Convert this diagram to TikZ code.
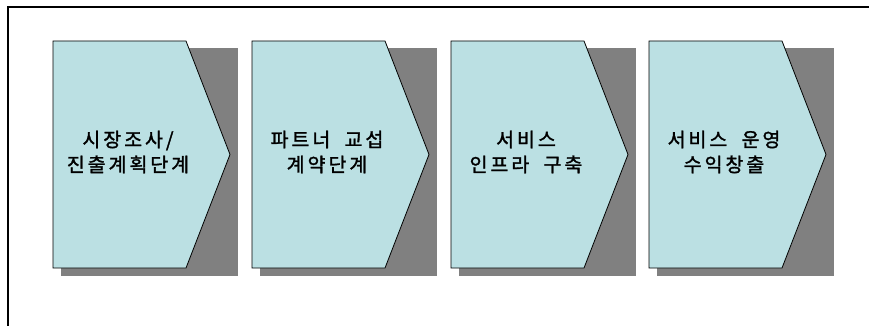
\documentclass[tikz,border=0pt]{standalone}
\usepackage{fontspec}
\newfontfamily\kofont[LetterSpace=15,FakeBold=1.5]{Noto Sans CJK KR}
\newcommand\wgap{\hspace{7pt}}
\definecolor{stagefill}{HTML}{BBE0E3}
\definecolor{shadowgray}{HTML}{808080}
\begin{document}
\begin{tikzpicture}[x=1pt,y=-1pt,
  stagetext/.style={align=center,font=\kofont\fontsize{19.5}{25}\selectfont,inner sep=0pt},
  stageshape/.style={fill=stagefill,draw=black,line width=0.8pt,line join=miter},
  stageshadow/.style={fill=shadowgray,draw=none}]
\useasboundingbox (0,0) rectangle (869,326);
\draw[line width=1.2pt] (8,326) -- (8,7) -- (869,7);
\foreach \L/\txt/\nm in {53/{시장조사/\\진출계획단계}/s1,
                         252/{파트너 \wgap 교섭\\계약단계}/s2,
                         451/{서비스\\인프라 \wgap 구축}/s3,
                         649/{서비스 \wgap 운영\\수익창출}/s4}{
  \fill[stageshadow] (\L+8,48) rectangle (\L+185,276);
  \draw[stageshape] (\L,41) -- (\L+133,41) -- (\L+177,154.5) -- (\L+133,268) -- (\L,268) -- cycle;
  \node[stagetext] (\nm) at (\L+75,152) {\txt};
}
\end{tikzpicture}
\end{document}
